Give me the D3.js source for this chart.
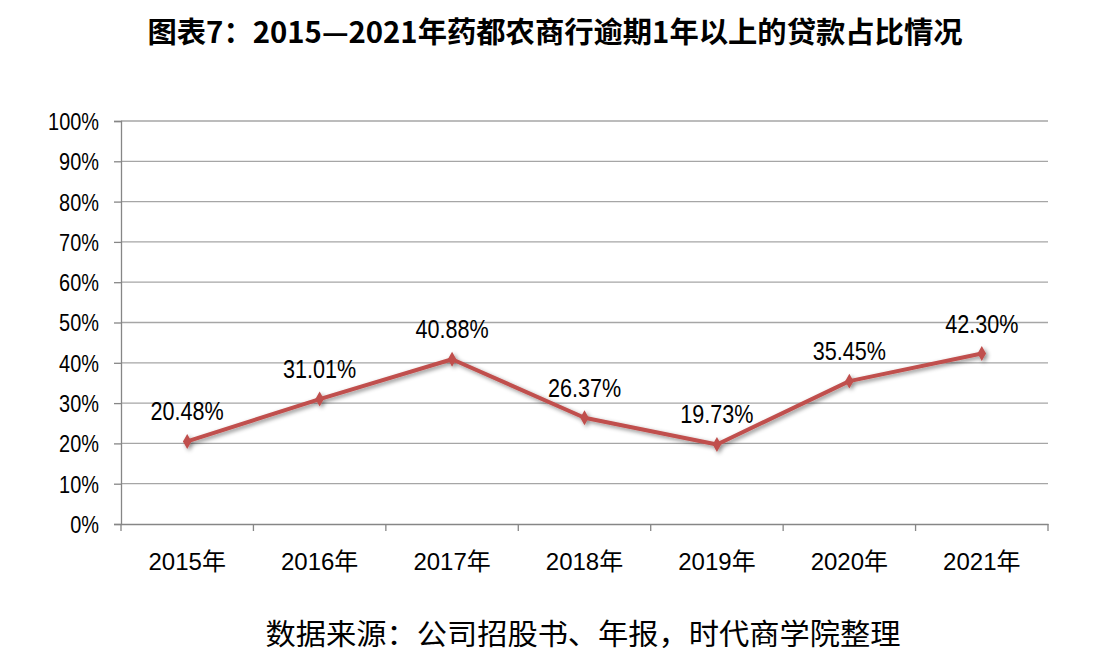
<!DOCTYPE html>
<html><head><meta charset="utf-8">
<script src="https://cdn.jsdelivr.net/npm/d3@7"></script>
<style>body{margin:0;background:#fff}</style>
</head><body>
<script>
const categories = ["2015年","2016年","2017年","2018年","2019年","2020年","2021年"];
const values = [20.48, 31.01, 40.88, 26.37, 19.73, 35.45, 42.30];
const yTicks = [0,10,20,30,40,50,60,70,80,90,100];
const title = "图表7：2015—2021年药都农商行逾期1年以上的贷款占比情况";
const source = "数据来源：公司招股书、年报，时代商学院整理";

(function(){
const W = 1105, H = 667;
const SANS = "'Liberation Sans', Arial, 'Noto Sans CJK SC', sans-serif";
const svg = d3.select("body").append("svg").attr("width", W).attr("height", H);
const defs = svg.append("defs");
const f = defs.append("filter").attr("id","sh").attr("x","-20%").attr("y","-20%").attr("width","140%").attr("height","140%");
f.append("feDropShadow").attr("dx",2).attr("dy",2).attr("stdDeviation",2).attr("flood-color","#000").attr("flood-opacity",0.45);

const condense = sel => sel.each(function(){
  const len = this.getComputedTextLength();
  d3.select(this).attr("textLength", len*0.83).attr("lengthAdjust","spacingAndGlyphs");
});

const pl = 121, pr = 1048, pt = 121, pb = 524;
const x = d3.scaleBand().domain(categories).range([pl, pr]);
const y = d3.scaleLinear().domain([0,100]).range([pb, pt]);

svg.append("text").attr("x", 555).attr("y", 43).attr("text-anchor","middle")
  .attr("font-family","'Noto Sans CJK SC'").attr("font-weight","bold").attr("font-size",29)
  .attr("textLength", 815).attr("lengthAdjust","spacingAndGlyphs")
  .attr("fill","#000").text(title);

svg.append("g").selectAll("line").data(yTicks.filter(d=>d>0)).join("line")
  .attr("x1", pl).attr("x2", pr).attr("y1", d=>y(d)).attr("y2", d=>y(d))
  .attr("stroke","#a6a6a6").attr("stroke-width",1.3);

const yAxis = svg.append("g").attr("transform",`translate(${pl},0)`)
  .call(d3.axisLeft(y).tickValues(yTicks).tickFormat(d=>d+"%").tickSize(7).tickPadding(15));
yAxis.select(".domain").attr("stroke","#868686").attr("stroke-width",1.3);
yAxis.selectAll(".tick line").attr("stroke","#868686").attr("stroke-width",1.3);
yAxis.selectAll("text").attr("font-family",SANS).attr("font-size",24).attr("fill","#000").attr("dy","0.35em")
  .call(condense);

const xAxis = svg.append("g").attr("transform",`translate(0,${pb})`)
  .call(d3.axisBottom(x).tickSize(0));
xAxis.select(".domain").attr("stroke","#868686").attr("stroke-width",1.3);
xAxis.selectAll("text").attr("font-family",SANS).attr("font-size",24).attr("fill","#000")
  .attr("y",46).attr("dy",0);
const bounds = categories.map(c=>x(c)).concat([pr]);
svg.append("g").selectAll("line").data(bounds).join("line")
  .attr("x1",d=>d).attr("x2",d=>d).attr("y1",pb).attr("y2",pb+7)
  .attr("stroke","#868686").attr("stroke-width",1.3);

const cx = c => x(c) + x.bandwidth()/2;
const line = d3.line().x((d,i)=>cx(categories[i])).y(d=>y(d));
const g = svg.append("g").attr("filter","url(#sh)");
g.append("path").datum(values).attr("d", line).attr("fill","none")
  .attr("stroke","#C0504D").attr("stroke-width",4).attr("stroke-linejoin","round");
g.selectAll("path.m").data(values).join("path").attr("class","m")
  .attr("d", d3.symbol(d3.symbolDiamond, 64))
  .attr("transform",(d,i)=>`translate(${cx(categories[i])},${y(d)})`)
  .attr("fill","#C0504D");

svg.append("g").selectAll("text").data(values).join("text")
  .attr("x",(d,i)=>cx(categories[i])).attr("y", d=>y(d)-21)
  .attr("text-anchor","middle").attr("font-family",SANS).attr("font-size",26)
  .attr("fill","#000").text(d=>d.toFixed(2)+"%").call(condense);

svg.append("text").attr("x", 583).attr("y", 645).attr("text-anchor","middle")
  .attr("font-family","'Noto Sans CJK SC'").attr("font-size",29)
  .attr("textLength", 635).attr("lengthAdjust","spacingAndGlyphs")
  .attr("fill","#000").text(source);
})();
</script>
</body></html>
